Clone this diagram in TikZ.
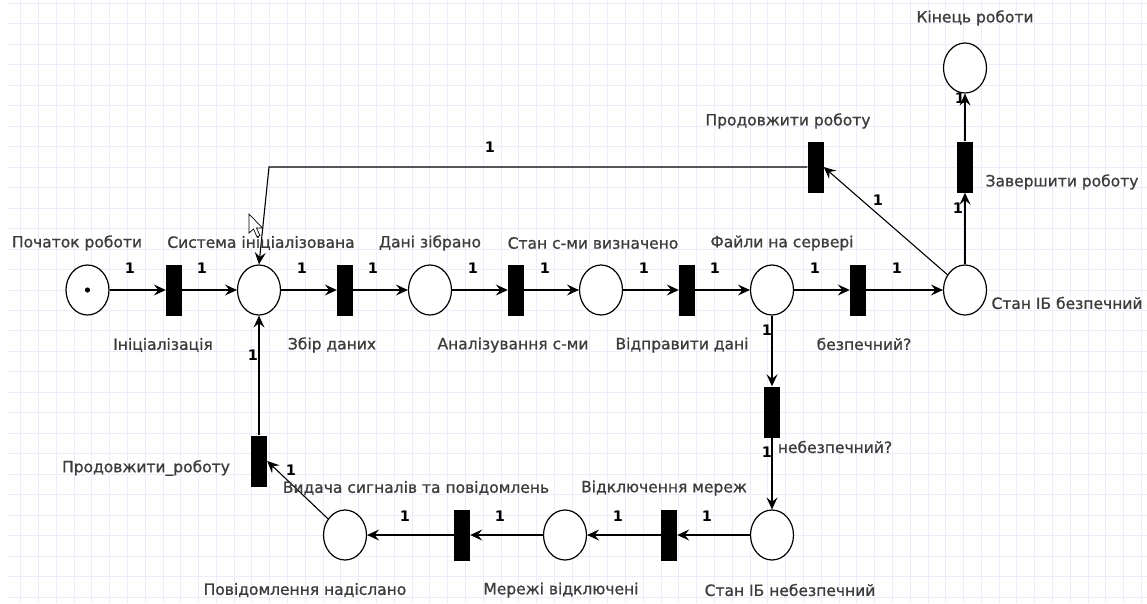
\documentclass[tikz,border=0pt]{standalone}
\usepackage{fontspec}
\setmainfont{DejaVu Sans}
\newfontfamily\lblfont{DejaVu Sans}[FakeBold=0.9]
\usetikzlibrary{shapes.geometric,arrows.meta}
\definecolor{gridc}{HTML}{ECECFA}
\definecolor{txt}{HTML}{3C3C3C}
\tikzset{
  place/.style={ellipse,draw=black,line width=1.2pt,fill=white,minimum width=43pt,minimum height=50pt,inner sep=0pt},
  trans/.style={rectangle,fill=black,draw=none,minimum width=16pt,minimum height=51pt,inner sep=0pt},
  arc/.style={draw=black,line width=1.1pt,-{Stealth[length=12pt,width=11pt,inset=4.5pt]}},
  lbl/.style={text=txt,font=\lblfont\fontsize{15.5}{18}\selectfont,inner sep=0pt},
  wt/.style={text=black,font=\fontsize{14.5}{16}\selectfont\bfseries,inner sep=0pt}
}
\begin{document}
\begin{tikzpicture}[x=1pt,y=-1pt]
\useasboundingbox (0,0) rectangle (1147,603);
\fill[white] (0,0) rectangle (1147,603);
% grid
\foreach \i in {0,...,63} {\draw[gridc,line width=1pt] ({20.7+17.79*\i},0) -- ({20.7+17.79*\i},603);}
\foreach \j in {0,...,29} {\draw[gridc,line width=1pt] (8,{3.3+20.48*\j}) -- (1147,{3.3+20.48*\j});}
% places
\node[place] (P0) at (87.5,290) {};
\fill[black] (P0.center) circle (2.6pt);
\node[place] (P1) at (259,290) {};
\node[place] (P2) at (430,290) {};
\node[place] (P3) at (601,290) {};
\node[place] (P4) at (772,290) {};
\node[place] (P5) at (965,290) {};
\node[place] (P6) at (965,68) {};
\node[place] (P7) at (772,535) {};
\node[place] (P8) at (565,535) {};
\node[place] (P9) at (345,535) {};
% transitions
\node[trans] (T1) at (174,290) {};
\node[trans] (T2) at (345,290) {};
\node[trans] (T3) at (516,290) {};
\node[trans] (T4) at (687,290) {};
\node[trans] (T5) at (858,290) {};
\node[trans] (T6) at (815.5,167) {};
\node[trans] (T7) at (965,167) {};
\node[trans] (T8) at (772,412) {};
\node[trans] (T9) at (669,535) {};
\node[trans] (T10) at (462,535) {};
\node[trans] (T11) at (259,461) {};
\coordinate (c1) at (269,167);
% arcs
\draw[arc] (P0) -- (T1);
\draw[arc] (T1) -- (P1);
\draw[arc] (P1) -- (T2);
\draw[arc] (T2) -- (P2);
\draw[arc] (P2) -- (T3);
\draw[arc] (T3) -- (P3);
\draw[arc] (P3) -- (T4);
\draw[arc] (T4) -- (P4);
\draw[arc] (P4) -- (T5);
\draw[arc] (T5) -- (P5);
\draw[arc] (P5) -- (T6.east);
\draw[arc] (T6.west) -- (c1) -- (P1.north);
\draw[arc] (P5) -- (T7);
\draw[arc] (T7) -- (P6);
\draw[arc] (P4) -- (T8);
\draw[arc] (T8) -- (P7);
\draw[arc] (P7) -- (T9);
\draw[arc] (T9) -- (P8);
\draw[arc] (P8) -- (T10);
\draw[arc] (T10) -- (P9);
\draw[arc] (P9) -- (T11.east);
\draw[arc] (T11) -- (P1);
% weights
\foreach \x/\y in {130/268,202/268,302/268,373/268,473/268,545/268,644/268,715/268,815/268,897/268,878/200,490/147,958/208,960/98,767/330,767/452,707/516,618/516,500/516,405/516,291/470,253/355}
  {\node[wt] at (\x,\y) {1};}
% labels
\node[lbl] (L0) at (77,243) {Початок роботи};
\node[lbl] (L1) at (261,243) {Система ініціалізована};
\node[lbl] (L2) at (430,243) {Дані зібрано};
\node[lbl] (L3) at (593,243) {Стан с-ми визначено};
\node[lbl] (L4) at (782,243) {Файли на сервері};
\node[lbl] (L5) at (1067,303) {Стан ІБ безпечний};
\node[lbl] (L6) at (975,18) {Кінець роботи};
\node[lbl] (L7) at (790,590) {Стан ІБ небезпечний};
\node[lbl] (L8) at (561,590) {Мережі відключені};
\node[lbl] (L9) at (305,590) {Повідомлення надіслано};
\node[lbl] (M1) at (163,345) {Ініціалізація};
\node[lbl] (M2) at (332,345) {Збір даних};
\node[lbl] (M3) at (513,345) {Аналізування с-ми};
\node[lbl] (M4) at (682,345) {Відправити дані};
\node[lbl] (M5) at (864,344) {безпечний?};
\node[lbl] (M6) at (788,121) {Продовжити роботу};
\node[lbl] (M7) at (1062,182) {Завершити роботу};
\node[lbl] (M8) at (835,447) {небезпечний?};
\node[lbl] (M9) at (664,488) {Відключення мереж};
\node[lbl] (M10) at (416,488) {Видача сигналів та повідомлень};
\node[lbl] (M11) at (146,468) {Продовжити\_роботу};
% cursor
\draw[black,line width=0.7pt,fill=white] (249,214) -- (249,233) -- (253.5,229) -- (257,237) -- (260,235.5) -- (256.5,228) -- (262.5,228) -- cycle;
\end{tikzpicture}
\end{document}
